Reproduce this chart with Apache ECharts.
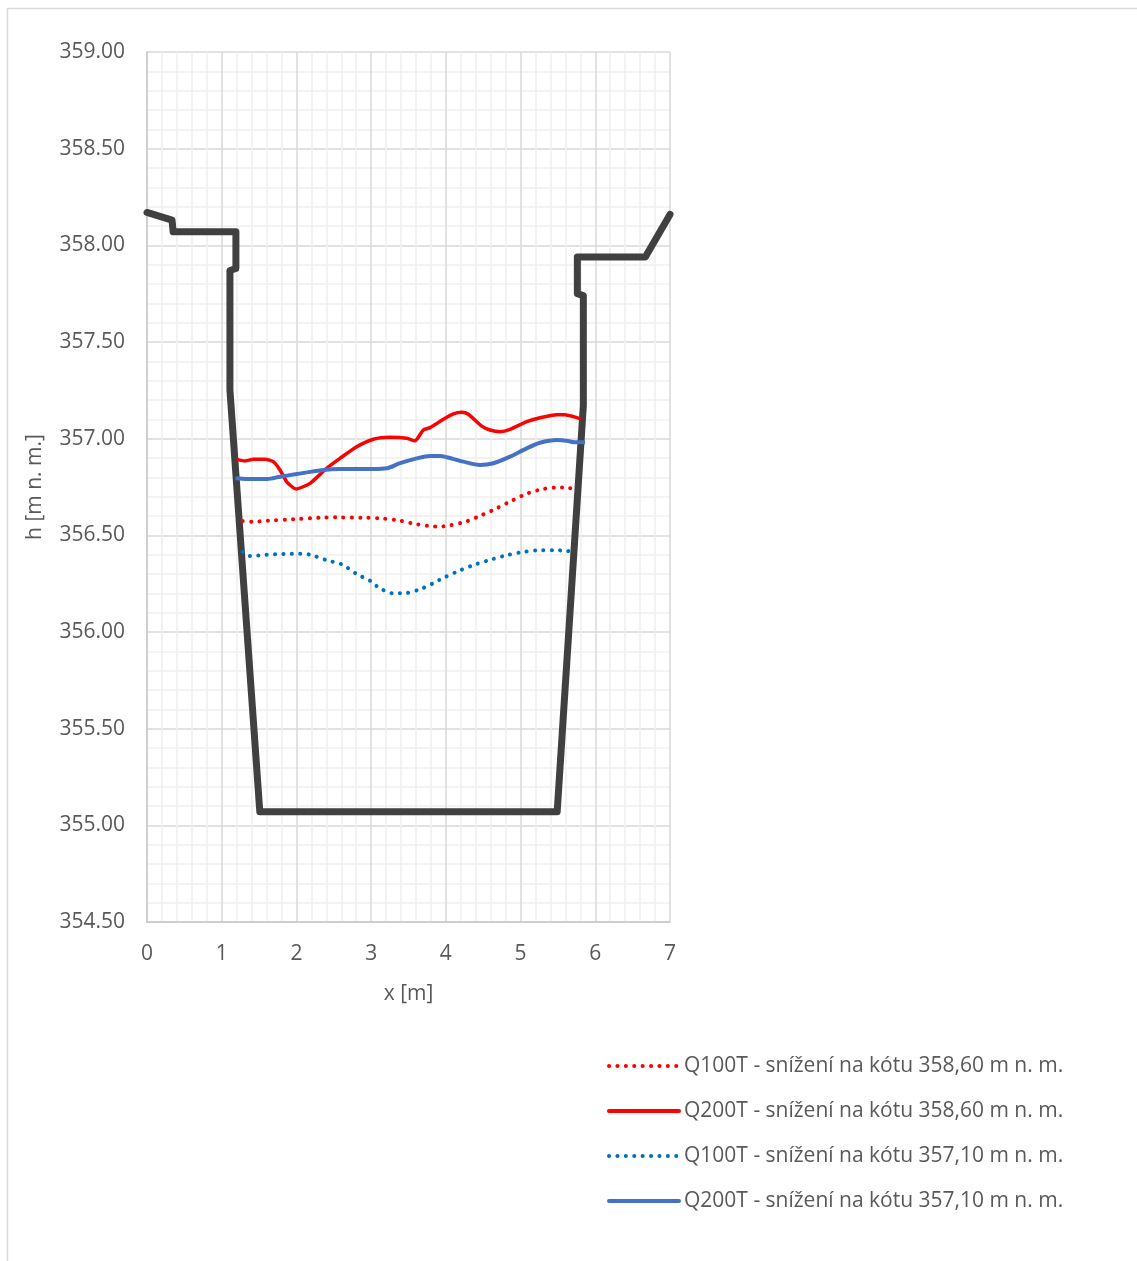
<!DOCTYPE html>
<html>
<head>
<meta charset="utf-8">
<script src="https://cdn.jsdelivr.net/npm/echarts@6/dist/echarts.min.js"></script>
<style>
  html, body { margin: 0; padding: 0; background: #ffffff; }
  #chart { width: 1137px; height: 1261px; }
</style>
</head>
<body>
<div id="chart"></div>
<script>
// profil koryta [x, h]
const terrain = [
  [0, 358.17], [0.335, 358.13], [0.35, 358.07], [1.19, 358.07], [1.19, 357.88],
  [1.11, 357.87], [1.11, 357.25], [1.51, 355.07], [5.49, 355.07], [5.84, 357.17],
  [5.84, 357.74], [5.76, 357.75], [5.76, 357.94], [6.67, 357.94], [7, 358.16]
];

const q100High = [
  [1.281, 356.574], [1.401, 356.570], [1.624, 356.576], [1.959, 356.583], [2.316, 356.591],
  [2.539, 356.593], [2.895, 356.591], [3.119, 356.588], [3.342, 356.579], [3.565, 356.561],
  [3.788, 356.547], [3.913, 356.545], [4.033, 356.550], [4.257, 356.570], [4.458, 356.601],
  [4.681, 356.640], [4.882, 356.679], [5.082, 356.715], [5.305, 356.740], [5.529, 356.748],
  [5.649, 356.743], [5.751, 356.755]
];

const q200High = [
  [1.200, 356.893], [1.312, 356.885], [1.423, 356.893], [1.579, 356.893], [1.691, 356.881],
  [1.780, 356.838], [1.870, 356.777], [1.994, 356.740], [2.182, 356.769], [2.405, 356.847],
  [2.583, 356.898], [2.807, 356.958], [3.029, 356.997], [3.253, 357.007], [3.476, 357.002],
  [3.587, 356.989], [3.698, 357.045], [3.788, 357.057], [3.966, 357.100], [4.100, 357.128],
  [4.212, 357.136], [4.301, 357.126], [4.480, 357.065], [4.591, 357.045], [4.725, 357.036],
  [4.859, 357.048], [5.082, 357.088], [5.260, 357.108], [5.484, 357.124], [5.595, 357.124],
  [5.706, 357.114], [5.809, 357.102]
];

const q100Low = [
  [1.281, 356.415], [1.379, 356.393], [1.602, 356.400], [1.825, 356.403], [2.048, 356.405],
  [2.182, 356.400], [2.405, 356.371], [2.606, 356.350], [2.807, 356.300], [3.008, 356.260],
  [3.096, 356.231], [3.298, 356.200], [3.432, 356.200], [3.655, 356.221], [3.856, 356.257],
  [3.958, 356.278], [4.167, 356.315], [4.377, 356.347], [4.600, 356.374], [4.822, 356.398],
  [5.046, 356.414], [5.270, 356.423], [5.503, 356.423], [5.615, 356.417], [5.719, 356.429]
];

const q200Low = [
  [1.185, 356.795], [1.342, 356.791], [1.610, 356.791], [1.780, 356.803], [2.004, 356.817],
  [2.361, 356.838], [2.583, 356.843], [3.029, 356.843], [3.209, 356.847], [3.387, 356.873],
  [3.610, 356.898], [3.788, 356.910], [3.922, 356.910], [4.012, 356.904], [4.235, 356.881],
  [4.458, 356.864], [4.636, 356.873], [4.859, 356.907], [5.082, 356.950], [5.260, 356.979],
  [5.484, 356.993], [5.618, 356.989], [5.729, 356.981], [5.863, 356.981]
];

const seriesNames = [
  'Q100T - snížení na kótu 358,60 m n. m.',
  'Q200T - snížení na kótu 358,60 m n. m.',
  'Q100T - snížení na kótu 357,10 m n. m.',
  'Q200T - snížení na kótu 357,10 m n. m.'
];

const font = 'Open Sans';
const textColor = '#595959';

const chart = echarts.init(document.getElementById('chart'), null, { renderer: 'canvas' });

const dotted = (color) => ({ color: color, width: 4, type: [0.1, 8.3], cap: 'round' });

chart.setOption({
  backgroundColor: '#ffffff',
  animation: false,
  graphic: [{
    type: 'rect',
    shape: { x: 7.5, y: 8.5, width: 1200, height: 1300 },
    style: { fill: 'none', stroke: '#d9d9d9', lineWidth: 1.5 },
    silent: true,
    z: -10
  }],
  grid: { left: 147, top: 52, width: 523, height: 870 },
  xAxis: {
    type: 'value',
    min: 0, max: 7, interval: 1,
    name: 'x [m]',
    nameLocation: 'middle',
    nameGap: 62,
    nameTextStyle: { fontFamily: font, fontSize: 21, color: textColor },
    axisLine: { show: true, onZero: false, lineStyle: { color: '#c8c8c8', width: 1.5 } },
    axisTick: { show: false },
    axisLabel: { margin: 22, fontFamily: font, fontSize: 21, color: textColor },
    splitLine: { show: true, lineStyle: { color: '#d9d9d9', width: 1.5 } },
    minorTick: { show: false, splitNumber: 5 },
    minorSplitLine: { show: true, lineStyle: { color: '#efefef', width: 1.5 } }
  },
  yAxis: {
    type: 'value',
    min: 354.5, max: 359, interval: 0.5,
    name: 'h [m n. m.]',
    nameLocation: 'middle',
    nameGap: 101,
    nameRotate: 90,
    nameTextStyle: { fontFamily: font, fontSize: 21, color: textColor },
    axisLine: { show: true, lineStyle: { color: '#c8c8c8', width: 1.5 } },
    axisTick: { show: false },
    axisLabel: {
      margin: 22, fontFamily: font, fontSize: 21, color: textColor,
      formatter: (v) => v.toFixed(2)
    },
    splitLine: { show: true, lineStyle: { color: '#d9d9d9', width: 1.5 } },
    minorTick: { show: false, splitNumber: 5 },
    minorSplitLine: { show: true, lineStyle: { color: '#efefef', width: 1.5 } }
  },
  legend: {
    orient: 'vertical',
    left: 602,
    top: 1050,
    itemWidth: 70,
    itemHeight: 14,
    itemGap: 23,
    data: seriesNames,
    itemStyle: { opacity: 0 },
    lineStyle: { width: 4, cap: 'round' },
    textStyle: { fontFamily: font, fontSize: 21, color: textColor, lineHeight: 22 }
  },
  series: [{
    name: 'koryto',
    type: 'line',
    data: terrain,
    symbol: 'none',
    lineStyle: { color: '#404040', width: 7, join: 'round', cap: 'round' },
    itemStyle: { color: '#404040' },
    z: 2
  }, {
    name: seriesNames[0],
    type: 'line',
    data: q100High,
    symbol: 'none',
    smooth: 0.3,
    lineStyle: dotted('#ff0000'),
    itemStyle: { color: '#ff0000' },
    z: 3
  }, {
    name: seriesNames[1],
    type: 'line',
    data: q200High,
    symbol: 'none',
    smooth: 0.2,
    lineStyle: { color: '#ff0000', width: 3.5 },
    itemStyle: { color: '#ff0000' },
    z: 3
  }, {
    name: seriesNames[2],
    type: 'line',
    data: q100Low,
    symbol: 'none',
    smooth: 0.3,
    lineStyle: dotted('#0070c0'),
    itemStyle: { color: '#0070c0' },
    z: 3
  }, {
    name: seriesNames[3],
    type: 'line',
    data: q200Low,
    symbol: 'none',
    smooth: 0.3,
    lineStyle: { color: '#4472c4', width: 4 },
    itemStyle: { color: '#4472c4' },
    z: 3
  }]
});
</script>
</body>
</html>
